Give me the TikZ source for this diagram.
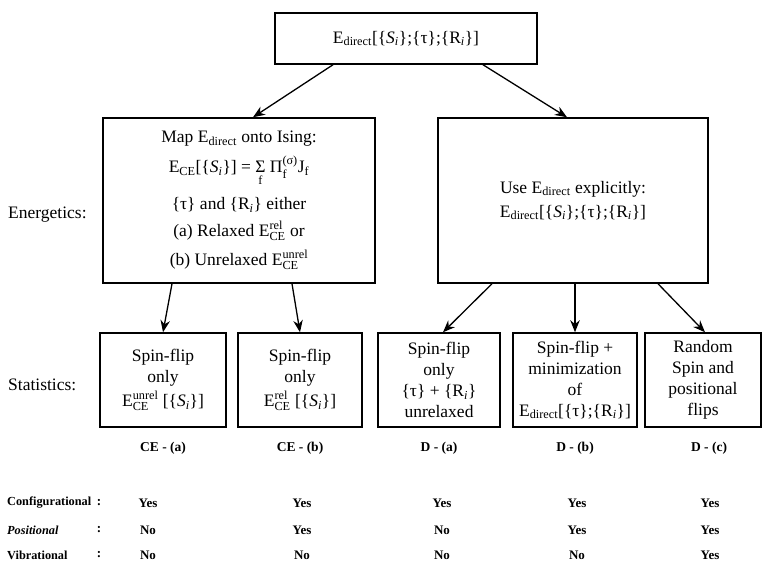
\documentclass[tikz,border=0pt]{standalone}
\usepackage{amsmath}
\usepackage{fontspec}
\setmainfont{Liberation Serif}
\usepackage{tikz}
\usetikzlibrary{arrows.meta, positioning}
\newcommand{\Edir}{E\textsubscript{direct}}
\newcommand{\Ece}[1]{$\text{E}^{\text{#1}}_{\text{CE}}$}
\newcommand{\Spin}{\textit{S\textsubscript{i}}}
\newcommand{\Rpos}{R\textsubscript{\textit{i}}}
\tikzset{
  frame/.style ={rectangle, draw=black, line width=1.5pt, text centered,
                 align=center, inner sep=2pt, font=\fontsize{17.5}{21}\selectfont},
  level/.style ={anchor=west, inner sep=0pt, font=\fontsize{17.5}{21}\selectfont},
  case/.style  ={inner sep=0pt, font=\fontsize{13.5}{16}\selectfont\bfseries},
  row/.style   ={anchor=west, inner sep=0pt, font=\fontsize{12.3}{15}\selectfont\bfseries},
  val/.style   ={inner sep=0pt, font=\fontsize{13}{16}\selectfont\bfseries},
  pipe/.style  ={-{Stealth[length=12pt, width=9.5pt]}, line width=1.3pt},
}

\begin{document}
\begin{tikzpicture}[x=1pt, y=-1pt]
  \useasboundingbox (0,0) rectangle (763,564);

  % energetics
  \node[frame, minimum width=262, minimum height=51] (dir) at (406,38.5)
    {\Edir[\{\Spin\};\{τ\};\{\Rpos\}]};
  \node[frame, minimum width=272, minimum height=165,
        font=\fontsize{17.5}{27}\selectfont] (map) at (239,200.5)
    {Map \Edir{} onto Ising:\\[3pt]
     E\textsubscript{CE}[\{\Spin\}] = $\mathop{\text{Σ}}\limits_{\text{f}}$
       $\text{Π}_{\text{f}}^{\text{(σ)}}$J\textsubscript{f}\\[10pt]
     \{τ\} and \{\Rpos\} either\\
     (a) Relaxed \Ece{rel} or\\[2pt]
     (b) Unrelaxed \Ece{unrel}};
  \node[frame, minimum width=270, minimum height=165,
        font=\fontsize{17.5}{24}\selectfont] (use) at (573,200.5)
    {Use \Edir{} explicitly:\\ \Edir[\{\Spin\};\{τ\};\{\Rpos\}]};

  % statistics
  \node[frame, minimum width=126, minimum height=94] (cea) at (163,380)
    {Spin-flip\\ only\\[3pt] \Ece{unrel} [\{\Spin\}]};
  \node[frame, minimum width=124, minimum height=94] (ceb) at (300,380)
    {Spin-flip\\ only\\[3pt] \Ece{rel} [\{\Spin\}]};
  \node[frame, minimum width=122, minimum height=94] (da) at (439,380)
    {Spin-flip\\ only\\ \{τ\} + \{\Rpos\}\\ unrelaxed};
  \node[frame, minimum width=124, minimum height=94] (db) at (575,380)
    {Spin-flip +\\ minimization\\ of\\ \Edir[\{τ\};\{\Rpos\}]};
  \node[frame, minimum width=116, minimum height=94] (dc) at (703,380)
    {Random\\ Spin and\\ positional\\ flips};

  \node[level] (en) at (8,215) {Energetics:};
  \node[level] (st) at (8,385) {Statistics:};

  \node[case, below=14pt of cea] (lcea) {CE - (a)};
  \node[case, below=14pt of ceb] (lceb) {CE - (b)};
  \node[case, below=14pt of da]  (lda)  {D - (a)};
  \node[case, below=14pt of db]  (ldb)  {D - (b)};
  \node[case, below=14pt of dc, xshift=6pt] (ldc) {D - (c)};

  \draw[pipe] ([xshift=-73pt]dir.south) -- ([xshift=14pt]map.north);
  \draw[pipe] ([xshift=77pt]dir.south)  -- ([xshift=-6pt]use.north);
  \draw[pipe] ([xshift=-67pt]map.south) -- (cea.north);
  \draw[pipe] ([xshift=53pt]map.south)  -- (ceb.north);
  \draw[pipe] ([xshift=-81pt]use.south) -- ([xshift=4pt]da.north);
  \draw[pipe] ([xshift=2pt]use.south)   -- (db.north);
  \draw[pipe] ([xshift=85pt]use.south)  -- ([xshift=2pt]dc.north);

  % degrees of freedom
  \node[row] (cfg) at (7,503) {Configurational};
  \node[row] (pos) at (7,530) {\itshape Positional};
  \node[row] (vib) at (7,555) {Vibrational};
  \node[val] (cfgc) at (99,503) {:};
  \node[val] (posc) at (99,530) {:};
  \node[val] (vibc) at (99,555) {:};

  \node[val] (cfg1) at (148,503) {Yes};
  \node[val] (cfg2) at (302,503) {Yes};
  \node[val] (cfg3) at (442,503) {Yes};
  \node[val] (cfg4) at (577,503) {Yes};
  \node[val] (cfg5) at (710,503) {Yes};
  \node[val] (pos1) at (148,530) {No};
  \node[val] (pos2) at (302,530) {Yes};
  \node[val] (pos3) at (442,530) {No};
  \node[val] (pos4) at (577,530) {Yes};
  \node[val] (pos5) at (710,530) {Yes};
  \node[val] (vib1) at (148,555) {No};
  \node[val] (vib2) at (302,555) {No};
  \node[val] (vib3) at (442,555) {No};
  \node[val] (vib4) at (577,555) {No};
  \node[val] (vib5) at (710,555) {Yes};

\end{tikzpicture}
\end{document}
